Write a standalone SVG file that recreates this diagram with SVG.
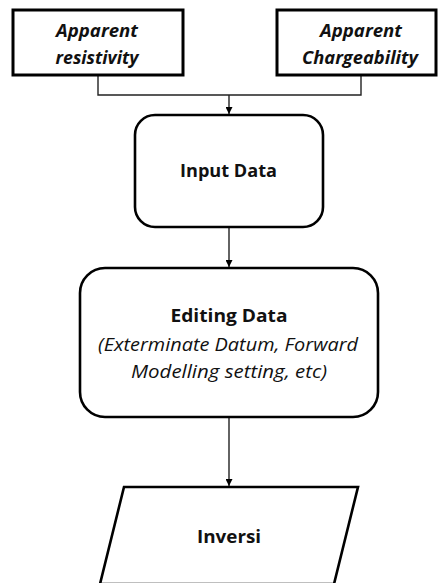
<svg xmlns="http://www.w3.org/2000/svg" width="438" height="583" viewBox="0 0 438 583">
  <style>
    .box { fill: #fff; stroke: #000; stroke-width: 2.6; }
    .src { fill: #fff; stroke: #000; stroke-width: 3; }
    .wire { fill: none; stroke: #222; stroke-width: 1.4; }
    text { font-family: "Open Sans", "Liberation Sans", sans-serif; fill: #111; text-anchor: middle; }
    .bi { font-weight: bold; font-style: italic; font-size: 18px; }
    .b { font-weight: bold; font-size: 18.5px; }
    .i { font-style: italic; font-size: 18.5px; }
  </style>
  <defs>
    <marker id="arrow" viewBox="0 0 10 10" refX="10" refY="5" markerWidth="7" markerHeight="7" markerUnits="userSpaceOnUse" orient="auto">
      <path d="M0,0 L10,5 L0,10 z" fill="#000"/>
    </marker>
  </defs>

  <g id="connectors">
    <polyline class="wire" points="98,76 98,95 361,95 361,76"/>
    <line class="wire" x1="229" y1="95" x2="229" y2="114" marker-end="url(#arrow)"/>
    <line class="wire" x1="229" y1="228" x2="229" y2="267" marker-end="url(#arrow)"/>
    <line class="wire" x1="229" y1="418" x2="229" y2="486" marker-end="url(#arrow)"/>
  </g>

  <g id="apparent-resistivity">
    <rect class="src" x="13" y="10" width="170" height="65"/>
    <text class="bi" x="97" y="37" textLength="82" lengthAdjust="spacingAndGlyphs">Apparent</text>
    <text class="bi" x="97" y="64" textLength="83" lengthAdjust="spacingAndGlyphs">resistivity</text>
  </g>

  <g id="apparent-chargeability">
    <rect class="src" x="277" y="10" width="159" height="65"/>
    <text class="bi" x="361" y="37" textLength="82" lengthAdjust="spacingAndGlyphs">Apparent</text>
    <text class="bi" x="360" y="64" textLength="116" lengthAdjust="spacingAndGlyphs">Chargeability</text>
  </g>

  <g id="input-data">
    <rect class="box" x="135" y="115" width="188" height="112" rx="20" ry="20"/>
    <text class="b" x="228.5" y="177" textLength="97" lengthAdjust="spacingAndGlyphs">Input Data</text>
  </g>

  <g id="editing-data">
    <rect class="box" x="80" y="268" width="298" height="149" rx="25" ry="25"/>
    <text class="b" x="229" y="322" textLength="117" lengthAdjust="spacingAndGlyphs">Editing Data</text>
    <text class="i" x="228" y="351" textLength="260" lengthAdjust="spacingAndGlyphs">(Exterminate Datum, Forward</text>
    <text class="i" x="229" y="378" textLength="196" lengthAdjust="spacingAndGlyphs">Modelling setting, etc)</text>
  </g>

  <g id="inversi">
    <polygon class="box" points="124,487 358,487 334,584 100,584"/>
    <text class="b" x="229" y="543" textLength="64" lengthAdjust="spacingAndGlyphs">Inversi</text>
  </g>
</svg>
